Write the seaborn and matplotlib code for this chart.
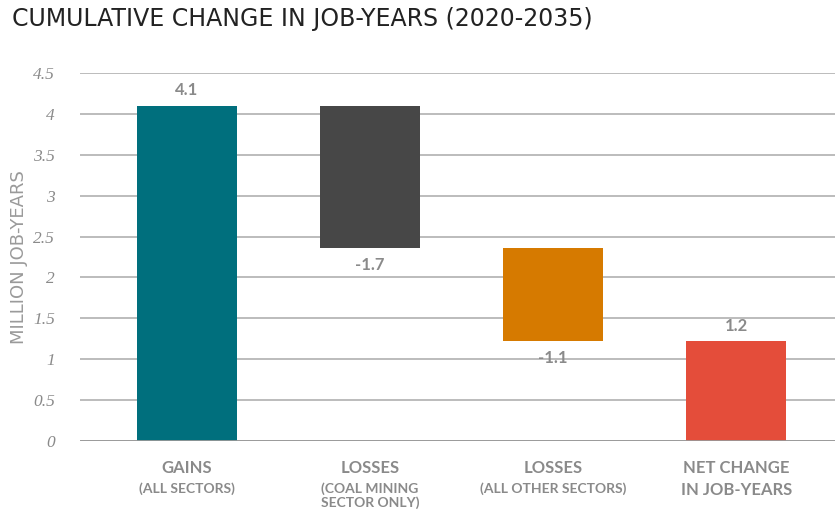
import matplotlib
matplotlib.use("Agg")
import matplotlib.pyplot as plt
import seaborn as sns
import pandas as pd
import numpy as np

# Waterfall data (million job-years)
categories = ["GAINS", "LOSSES (COAL)", "LOSSES (OTHER)", "NET CHANGE"]
cat_lines = ["GAINS", "LOSSES", "LOSSES", "NET CHANGE\nIN JOB-YEARS"]
subtitles = ["(ALL SECTORS)", "(COAL MINING\nSECTOR ONLY)", "(ALL OTHER SECTORS)", None]
changes = [4.10, -1.74, -1.14]
net_change = [1.22]
colors = ["#006F7D", "#474747", "#D67A00", "#E44D3A"]

# running totals -> bar bottoms/heights
steps = changes + net_change
bottoms, heights = [], []
running = 0.0
for i, v in enumerate(steps):
    if i < len(changes):
        if v >= 0:
            bottoms.append(running)
            heights.append(v)
        else:
            bottoms.append(running + v)
            heights.append(-v)
        running += v
    else:
        bottoms.append(0.0)
        heights.append(v)

df = pd.DataFrame({"cat": categories, "height": heights, "bottom": bottoms, "value": steps})

sns.set_theme(style="white")
plt.rcParams["font.family"] = ["Lato", "DejaVu Sans"]

fig = plt.figure(figsize=(8.35, 5.12), dpi=100)
ax = fig.add_axes([80 / 835, 1 - 441 / 512, (835 - 80) / 835, (441 - 73) / 512])

sns.barplot(data=df, x="cat", y="height", order=categories, color=colors[0],
            bottom=df["bottom"].to_numpy(), width=0.545, saturation=1,
            linewidth=0, ax=ax, zorder=3)
for patch, c in zip(ax.patches, colors):
    patch.set_facecolor(c)
    patch.set_edgecolor(c)

ax.set_ylim(0, 4.5)
ax.set_xlim(-0.585, 3.54)
ticks = np.arange(0, 4.51, 0.5)
ax.set_yticks(ticks)
ax.set_yticklabels([f"{t:g}" for t in ticks],
                   fontfamily="Liberation Serif", fontstyle="italic", fontsize=12.5, color="#8a8a8a")
ax.tick_params(axis="y", length=0, pad=18)
ax.grid(axis="y", color="#aaaaaa", linewidth=1.1, zorder=0)
ax.axhline(0, color="#999999", linewidth=2, zorder=4)
for s in ax.spines.values():
    s.set_visible(False)

ax.set_xticks(range(len(categories)))
ax.set_xticklabels([])
ax.tick_params(axis="x", length=0)
ax.set_xlabel("")
ax.set_ylabel("MILLION JOB-YEARS", fontsize=13, color="#9a9a9a", labelpad=4,
              fontfamily="DejaVu Sans")

# category labels
for i, (main, sub) in enumerate(zip(cat_lines, subtitles)):
    ax.text(i, -0.235, main, ha="center", va="top", fontsize=12, fontweight="bold",
            color="#8a8a8a", linespacing=1.45, clip_on=False)
    if sub:
        ax.text(i, -0.5, sub, ha="center", va="top", fontsize=10, fontweight="bold",
                color="#8a8a8a", linespacing=1.2, clip_on=False)

# value labels
for i, (v, b, h) in enumerate(zip(df["value"], df["bottom"], df["height"])):
    txt = f"{v:.1f}"
    if v >= 0:
        ax.text(i, b + h + 0.09, txt, ha="center", va="bottom", fontsize=12,
                fontweight="bold", color="#8a8a8a", zorder=5)
    else:
        ax.text(i, b - 0.11, txt, ha="center", va="top", fontsize=12,
                fontweight="bold", color="#8a8a8a", zorder=5)

fig.text(12 / 835, 1 - 19 / 512, "CUMULATIVE CHANGE IN JOB-YEARS (2020-2035)",
         fontsize=17, color="#222222", fontfamily="DejaVu Sans", va="center", ha="left")

fig.savefig("out.png", dpi=100)
